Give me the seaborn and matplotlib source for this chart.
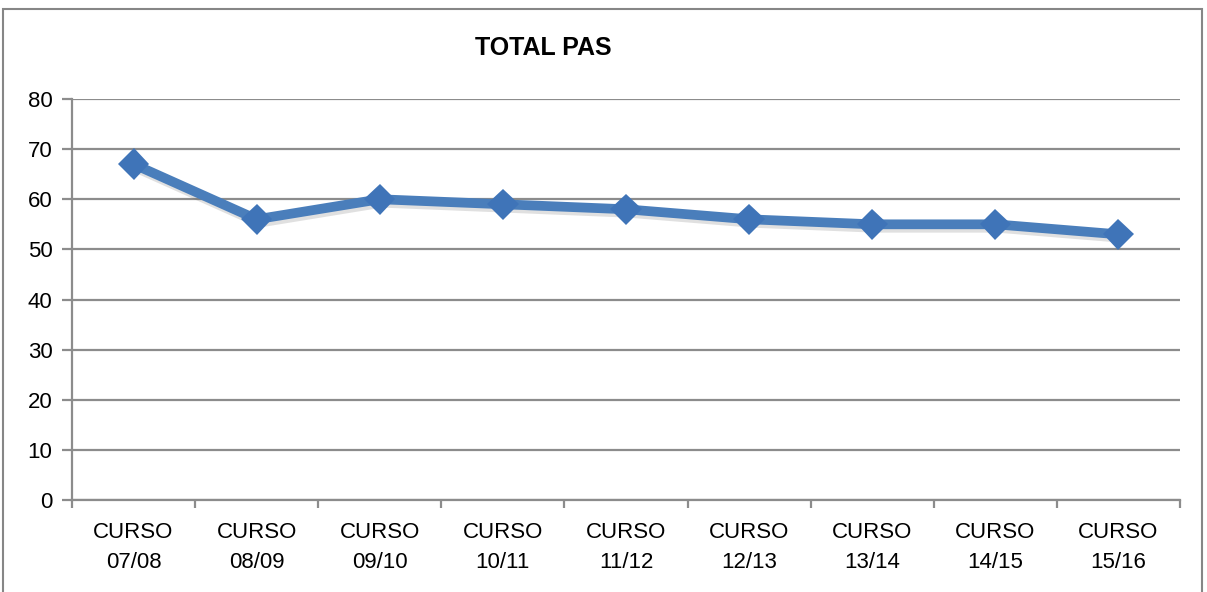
import pandas as pd
import matplotlib.pyplot as plt
import matplotlib.patheffects as pe
from matplotlib.patches import Rectangle
import seaborn as sns

# Datos
cursos = ['CURSO\n07/08', 'CURSO\n08/09', 'CURSO\n09/10', 'CURSO\n10/11', 'CURSO\n11/12',
          'CURSO\n12/13', 'CURSO\n13/14', 'CURSO\n14/15', 'CURSO\n15/16']
total_pas = [67, 56, 60, 59, 58, 56, 55, 55, 53]
y_ticks = [0, 10, 20, 30, 40, 50, 60, 70, 80]

data = pd.DataFrame({'curso': cursos, 'total': total_pas})

sns.set_style('white')
plt.rcParams['font.family'] = ['Liberation Sans Narrow', 'Liberation Sans', 'DejaVu Sans']
plt.rcParams['text.color'] = 'black'
plt.rcParams['xtick.labelcolor'] = 'black'
plt.rcParams['ytick.labelcolor'] = 'black'

fig = plt.figure(figsize=(12.07, 5.92), dpi=100)
ax = fig.add_axes([72 / 1207, 1 - 500 / 592, (1180 - 72) / 1207, (500 - 99) / 592])

sns.lineplot(data=data, x='curso', y='total', ax=ax, color='#4a7ebb', linewidth=7,
             marker='D', markersize=16, markeredgewidth=0, markerfacecolor='#3f74b8',
             sort=False,
             path_effects=[pe.SimpleLineShadow(offset=(1.5, -2.5), alpha=0.18, shadow_color='#555555'),
                           pe.Normal()])

ax.set_xlim(-0.5, len(cursos) - 0.5)
ax.set_ylim(0, 80)
ax.set_yticks(y_ticks)
ax.yaxis.grid(True, color='#8c8c8c', linewidth=1.6)
ax.set_axisbelow(True)
ax.set_xlabel('')
ax.set_ylabel('')

# ticks en los limites de categoria
ax.set_xticks(range(len(cursos)))
ax.set_xticklabels(cursos, fontsize=16, linespacing=1.55)
ax.set_xticks([i - 0.5 for i in range(len(cursos) + 1)], minor=True)
ax.tick_params(axis='x', which='major', length=0, pad=16)
ax.tick_params(axis='x', which='minor', length=6, width=1.6, color='#8c8c8c', direction='out')
ax.tick_params(axis='y', length=7, width=1.6, color='#8c8c8c', direction='out', labelsize=16, pad=7)
ax.tick_params(bottom=True, left=True, which='both')

for s in ['top', 'right']:
    ax.spines[s].set_visible(False)
for s in ['left', 'bottom']:
    ax.spines[s].set_color('#8c8c8c')
    ax.spines[s].set_linewidth(1.6)

fig.text(543 / 1207, 1 - 48 / 592, 'TOTAL PAS', ha='center', va='center',
         fontsize=18, fontweight='bold', color='black')

# marco del grafico
fig.patches.append(Rectangle((3 / 1207, -0.05), (1202 - 3) / 1207, 1.05 - 9 / 592,
                             transform=fig.transFigure, fill=False,
                             edgecolor='#868686', linewidth=1.5))

fig.savefig('out.png', dpi=100)
